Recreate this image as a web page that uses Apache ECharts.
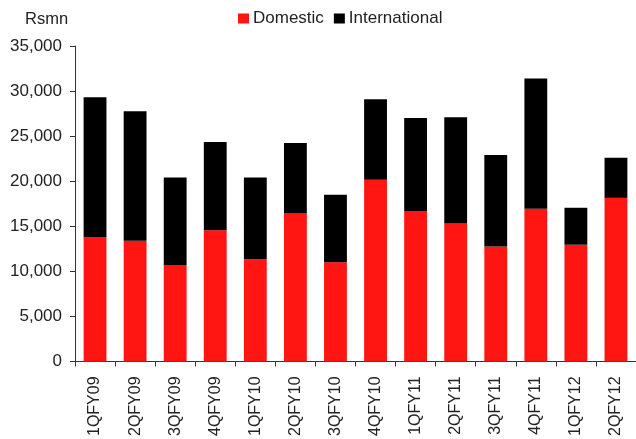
<!DOCTYPE html>
<html>
<head>
<meta charset="utf-8">
<script src="https://cdn.jsdelivr.net/npm/echarts@6/dist/echarts.min.js"></script>
<style>
  html, body { margin: 0; padding: 0; background: #fff; }
  #chart { width: 636px; height: 439px; }
</style>
</head>
<body>
<div id="chart"></div>
<script>
// Quarterly revenue split, Rs mn
var quarters = ['1QFY09', '2QFY09', '3QFY09', '4QFY09', '1QFY10', '2QFY10', '3QFY10',
                '4QFY10', '1QFY11', '2QFY11', '3QFY11', '4QFY11', '1QFY12', '2QFY12'];
var domestic = [13800, 13400, 10700, 14550, 11350, 16400, 11000,
                20150, 16700, 15300, 12750, 16950, 12950, 18150];
var international = [15500, 14350, 9700, 9800, 9050, 7850, 7500,
                     8950, 10300, 11800, 10150, 14450, 4100, 4450];
var yTicks = { min: 0, max: 35000, interval: 5000 };

var FONT = 'Liberation Sans, Arial, sans-serif';
var chart = echarts.init(document.getElementById('chart'), null, { renderer: 'canvas' });

chart.setOption({
  animation: false,
  backgroundColor: '#ffffff',
  title: {
    text: 'Rsmn',
    left: 25,
    top: 11,
    padding: 0,
    textStyle: { fontFamily: FONT, fontSize: 16.5, fontWeight: 'normal', color: '#222' }
  },
  legend: {
    left: 238,
    top: 10,
    padding: 0,
    itemWidth: 11,
    itemHeight: 10,
    itemGap: 10,
    icon: 'rect',
    textStyle: { fontFamily: FONT, fontSize: 17, color: '#222', padding: [0, 0, 0, -1] },
    data: ['Domestic', 'International']
  },
  grid: { left: 75, right: -2, top: 46, bottom: 77 },
  xAxis: {
    type: 'category',
    data: quarters,
    axisLine: { lineStyle: { color: '#333', width: 1 } },
    axisTick: { show: true, length: 5, lineStyle: { color: '#333' } },
    axisLabel: {
      rotate: 90,
      margin: 15,
      fontFamily: FONT,
      fontSize: 16,
      color: '#222'
    }
  },
  yAxis: {
    type: 'value',
    min: yTicks.min,
    max: yTicks.max,
    interval: yTicks.interval,
    axisLine: { show: true, lineStyle: { color: '#333', width: 1 } },
    axisTick: { show: true, length: 5, lineStyle: { color: '#333' } },
    splitLine: { show: false },
    axisLabel: {
      margin: 13,
      fontFamily: FONT,
      fontSize: 17,
      color: '#222',
      formatter: function (v) { return v.toLocaleString('en-US'); }
    }
  },
  series: [
    {
      name: 'Domestic',
      type: 'bar',
      stack: 'total',
      data: domestic,
      barWidth: '57%',
      itemStyle: { color: '#ff1612' }
    },
    {
      name: 'International',
      type: 'bar',
      stack: 'total',
      data: international,
      barWidth: '57%',
      itemStyle: { color: '#000000' }
    }
  ]
});
</script>
</body>
</html>
